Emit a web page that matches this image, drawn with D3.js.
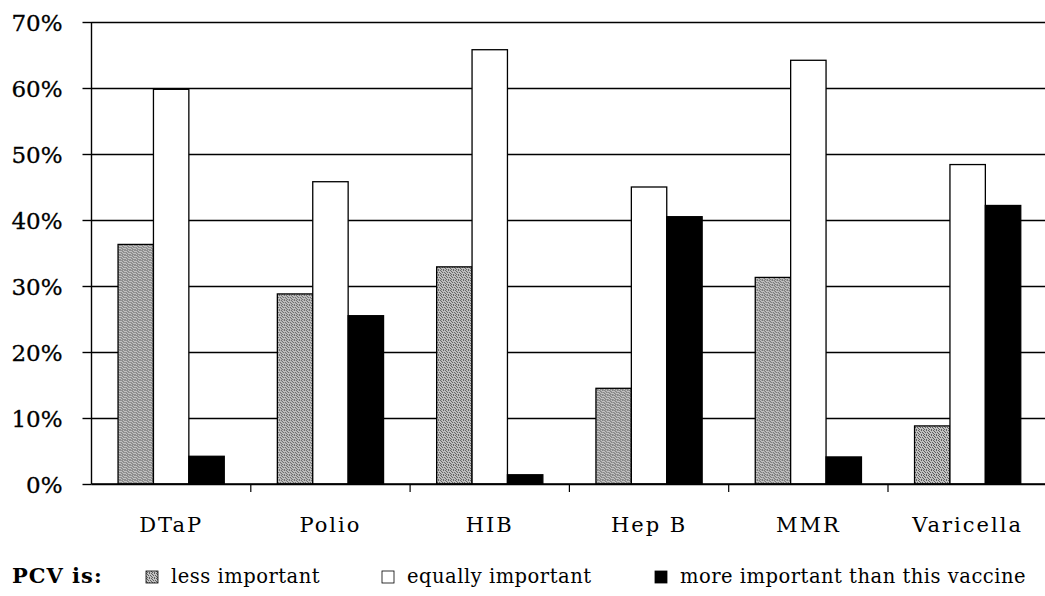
<!DOCTYPE html>
<html>
<head>
<meta charset="utf-8">
<script src="https://cdn.jsdelivr.net/npm/d3@7"></script>
<style>
  body { margin: 0; background: #fff; }
  svg { display: block; }
</style>
</head>
<body>
<div id="vis"></div>
<script>
// data
const CATEGORIES = ["DTaP", "Polio", "HIB", "Hep B", "MMR", "Varicella"];
const SERIES = ["less important", "equally important", "more important than this vaccine"];
const LESS = [36.3, 28.8, 32.9, 14.5, 31.3, 8.8];
const EQUAL = [59.8, 45.8, 65.8, 45.0, 64.2, 48.4];
const MORE = [4.2, 25.5, 1.4, 40.5, 4.1, 42.2];
const Y_TICKS = [0, 10, 20, 30, 40, 50, 60, 70];

const FRAME_WIDTH = 1045;
const FRAME_HEIGHT = 596;
const PLOT = {left: 91.5, right: 1047.3, top: 22, bottom: 484};
const FONT = "'DejaVu Serif', 'Liberation Serif', serif";

const FRAME = d3.select("#vis")
                .append("svg")
                    .attr("width", FRAME_WIDTH)
                    .attr("height", FRAME_HEIGHT)
                    .style("font-family", FONT);

// speckled grey fill (scattered dots so it doesn't read as stripes)
const DEFS = FRAME.append("defs");
const PAT = DEFS.append("pattern")
                .attr("id", "speckle")
                .attr("patternUnits", "userSpaceOnUse")
                .attr("width", 5)
                .attr("height", 5);
PAT.append("rect").attr("width", 5).attr("height", 5).attr("fill", "#c2c2c2");
[[0, 0], [3, 0], [1, 1], [4, 2], [2, 2], [0, 3], [3, 4], [1, 4]].forEach((p) => {
    PAT.append("rect").attr("x", p[0]).attr("y", p[1])
        .attr("width", 1).attr("height", 1).attr("fill", "#5e5e5e");
});

const FILLS = ["url(#speckle)", "#ffffff", "#000000"];

// scales
const X_SCALE = d3.scaleBand()
                    .domain(CATEGORIES)
                    .range([PLOT.left, PLOT.right])
                    .padding(0);

const BW = X_SCALE.bandwidth();
const GAP = BW * 1.5 / 4.5;   // excel style 150% gap

const X_INNER = d3.scaleBand()
                    .domain(SERIES)
                    .range([GAP / 2, BW - GAP / 2])
                    .padding(0);

const Y_SCALE = d3.scaleLinear()
                    .domain([0, 70])
                    .range([PLOT.bottom, PLOT.top]);

// gridlines
FRAME.append("g")
    .attr("transform", "translate(" + PLOT.left + ",0)")
    .call(d3.axisLeft(Y_SCALE)
            .tickValues(Y_TICKS)
            .tickSize(-(PLOT.right - PLOT.left))
            .tickFormat(""))
    .call((g) => g.select(".domain").remove())
    .call((g) => g.selectAll("line")
                    .attr("stroke", "#000")
                    .attr("stroke-width", 1.4));

// small ticks left of the axis + labels
FRAME.append("g")
    .attr("transform", "translate(" + PLOT.left + ",0)")
    .call(d3.axisLeft(Y_SCALE)
            .tickValues(Y_TICKS)
            .tickSize(9)
            .tickPadding(20)
            .tickFormat((d) => d + "%"))
    .call((g) => g.select(".domain").remove())
    .call((g) => g.selectAll("line").attr("stroke", "#000").attr("stroke-width", 1.4))
    .call((g) => g.selectAll("text")
                    .attr("font-size", "23px")
                    .attr("font-family", FONT)
                    .attr("fill", "#000")
                    .attr("stroke", "#000")
                    .attr("stroke-width", 0.3)
                    .attr("dy", "0.38em"));

// bars
const DATA = CATEGORIES.map((c, i) => {
    return {cat: c, vals: [LESS[i], EQUAL[i], MORE[i]]};
});

const GROUPS = FRAME.selectAll(".group")
                .data(DATA)
                .enter()
                .append("g")
                    .attr("class", "group")
                    .attr("transform", (d) => { return "translate(" + X_SCALE(d.cat) + ",0)"; });

GROUPS.selectAll("rect")
    .data((d) => { return d.vals.map((v, j) => { return {s: SERIES[j], v: v, j: j}; }); })
    .enter()
    .append("rect")
        .attr("x", (d) => { return X_INNER(d.s); })
        .attr("width", X_INNER.bandwidth())
        .attr("y", (d) => { return Y_SCALE(d.v); })
        .attr("height", (d) => { return Y_SCALE(0) - Y_SCALE(d.v); })
        .attr("fill", (d) => { return FILLS[d.j]; })
        .attr("stroke", "#000")
        .attr("stroke-width", 1.3);

// y axis line
FRAME.append("line")
    .attr("x1", PLOT.left).attr("x2", PLOT.left)
    .attr("y1", Y_SCALE(70)).attr("y2", Y_SCALE(0))
    .attr("stroke", "#000")
    .attr("stroke-width", 1.4);

// x axis
const X_AXIS = FRAME.append("g")
    .attr("transform", "translate(0," + PLOT.bottom + ")");

X_AXIS.append("line")
    .attr("x1", PLOT.left).attr("x2", PLOT.right)
    .attr("stroke", "#000")
    .attr("stroke-width", 1.4);

X_AXIS.selectAll(".xtick")
    .data(CATEGORIES.slice(1))
    .enter()
    .append("line")
        .attr("class", "xtick")
        .attr("x1", (d) => { return X_SCALE(d); })
        .attr("x2", (d) => { return X_SCALE(d); })
        .attr("y1", 0)
        .attr("y2", 8)
        .attr("stroke", "#000")
        .attr("stroke-width", 1.2);

X_AXIS.selectAll(".xlabel")
    .data(CATEGORIES)
    .enter()
    .append("text")
        .attr("class", "xlabel")
        .attr("x", (d) => { return X_SCALE(d) + BW / 2; })
        .attr("y", 48)
        .attr("text-anchor", "middle")
        .attr("font-size", "21px")
        .attr("letter-spacing", "2px")
        .text((d) => { return d; });

// legend
const LEGEND_Y = 583;
FRAME.append("text")
    .attr("x", 12)
    .attr("y", LEGEND_Y)
    .attr("font-size", "21px")
    .attr("font-weight", "bold")
    .attr("letter-spacing", "1px")
    .text("PCV is:");

const LEGEND_X = [146, 382, 655];

const LEG = FRAME.selectAll(".leg")
                .data(SERIES)
                .enter()
                .append("g")
                    .attr("class", "leg")
                    .attr("transform", (d, i) => { return "translate(" + LEGEND_X[i] + "," + LEGEND_Y + ")"; });

LEG.append("rect")
    .attr("x", 0)
    .attr("y", -12)
    .attr("width", 12)
    .attr("height", 12)
    .attr("fill", (d, i) => { return FILLS[i]; })
    .attr("stroke", "#000")
    .attr("stroke-width", 0.8);

LEG.append("text")
    .attr("x", 25)
    .attr("y", 0)
    .attr("font-size", "19.5px")
    .attr("letter-spacing", "0.5px")
    .text((d) => { return d; });
</script>
</body>
</html>
